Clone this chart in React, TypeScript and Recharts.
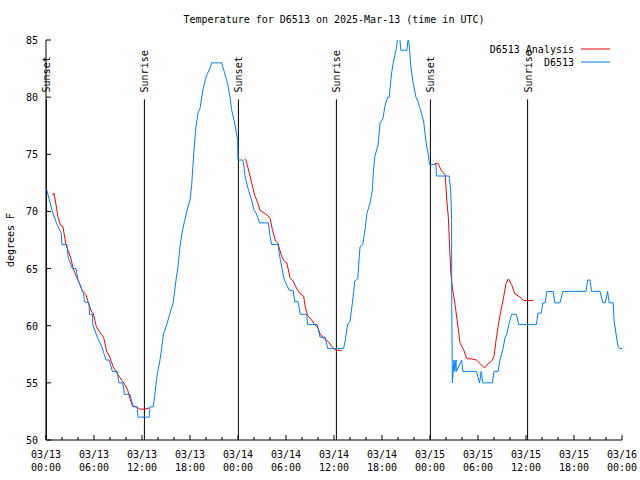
import { LineChart, Line, XAxis, YAxis, ReferenceLine } from "recharts";

const FONT = "'DejaVu Sans Mono', monospace";

// observed temperature, D6513 (hours since 03/13 00:00 UTC, degrees F)
const obsHours = [
  0.05, 0.8, 1.3, 1.9, 2.0, 2.6, 2.8, 3.3, 3.75, 4.0, 4.7, 4.8, 5.35, 5.45, 5.8, 5.85, 6.4, 6.96, 7.5, 7.9,
  8.3, 8.9, 9.1, 9.6, 9.8, 10.5, 10.9, 11.4, 11.5, 12.9, 13.0, 13.4, 13.6, 13.8, 14.0, 14.25, 14.7, 15.1, 15.5, 15.9,
  16.25, 16.5, 16.75, 17.0, 17.3, 17.7, 18.0, 18.2, 18.3, 18.5, 18.75, 19.0, 19.25, 19.6, 19.9, 20.2, 20.5, 20.7, 21.96, 22.2,
  22.7, 23.0, 23.2, 23.5, 23.75, 23.96, 24.0, 24.6, 24.75, 24.9, 25.3, 25.7, 26.0, 26.3, 26.7, 27.8, 28.0, 28.2, 29.0, 29.25,
  29.5, 29.8, 30.4, 30.9, 31.1, 31.5, 31.8, 32.6, 32.7, 33.9, 34.25, 34.9, 35.2, 37.2, 37.4, 37.7, 38.0, 38.3, 38.6, 38.96,
  39.25, 39.6, 39.9, 40.1, 40.5, 40.8, 40.9, 41.1, 41.5, 41.75, 42.1, 42.4, 42.7, 42.9, 43.2, 43.4, 43.75, 44.0, 44.2, 44.35,
  45.1, 45.3, 45.45, 45.6, 45.9, 46.25, 46.5, 46.8, 47.2, 47.5, 47.8, 47.95, 48.75, 48.8, 50.4, 50.6, 50.7, 50.72, 50.8, 51.0,
  51.1, 51.25, 51.3, 51.96, 52.1, 53.8, 54.2, 54.4, 54.6, 55.8, 56.0, 56.5, 56.75, 57.1, 57.4, 57.6, 57.9, 58.2, 58.8, 59.1,
  61.3, 61.5, 61.9, 62.1, 62.4, 62.6, 63.4, 63.6, 64.25, 64.6, 67.5, 67.7, 68.0, 68.2, 69.25, 69.6, 69.9, 70.2, 70.4, 70.9,
  71.0, 71.25, 71.5, 71.7, 72.0,
];
const obsTemps = [
  72.0, 70.0, 69.0, 68.1, 67.1, 67.1, 65.9, 65.0, 65.0, 64.0, 62.8, 62.1, 62.0, 61.0, 61.0, 60.1, 59.0, 58.2, 57.0, 57.0,
  56.0, 56.0, 55.0, 55.0, 54.0, 54.0, 52.9, 52.9, 52.0, 52.0, 52.9, 52.9, 53.9, 55.2, 56.1, 57.0, 59.3, 60.1, 61.1, 62.0,
  64.0, 65.2, 66.9, 68.1, 69.1, 70.3, 71.0, 72.2, 73.3, 75.4, 77.4, 78.6, 79.0, 80.6, 81.5, 82.1, 82.5, 83.0, 83.0, 82.4,
  81.2, 80.0, 78.9, 78.0, 77.1, 76.2, 74.5, 74.5, 73.9, 73.0, 71.9, 71.0, 70.1, 69.8, 69.0, 69.0, 67.8, 67.1, 67.1, 65.9,
  65.0, 64.0, 63.1, 63.1, 62.1, 62.1, 61.0, 61.0, 60.1, 60.1, 59.0, 59.0, 58.0, 58.0, 58.7, 60.1, 60.4, 62.0, 63.9, 64.1,
  66.9, 67.1, 68.5, 69.8, 70.7, 71.9, 73.3, 74.8, 75.8, 77.7, 78.1, 79.3, 80.0, 80.0, 82.1, 83.0, 84.1, 85.4, 85.4, 84.1,
  84.1, 85.3, 84.1, 82.7, 81.2, 80.0, 79.6, 78.9, 77.9, 76.1, 74.9, 74.1, 74.1, 73.1, 73.1, 71.7, 69.2, 61.5, 55.0, 57.0,
  56.0, 57.0, 56.0, 57.0, 56.0, 56.0, 55.0, 56.0, 55.0, 55.0, 56.0, 56.0, 57.0, 57.9, 59.0, 59.3, 60.2, 61.0, 61.0, 60.1,
  60.1, 61.1, 61.1, 62.0, 62.0, 63.0, 63.0, 62.0, 62.0, 63.0, 63.0, 64.0, 64.0, 63.0, 63.0, 62.0, 62.0, 63.0, 62.0, 62.0,
  60.5, 59.3, 58.2, 58.0, 58.0,
];

// analysis temperature, D6513 Analysis (null breaks the line between runs)
const anaHours = [
  0.8, 1.0, 1.3, 1.5, 1.8, 2.1, 2.25, 2.5, 2.8, 3.1, 3.4, 3.8, 4.25, 4.5, 5.0, 5.3, 5.7, 5.9, 6.3, 6.75,
  7.2, 7.6, 7.9, 8.4, 8.9, 9.5, 9.9, 10.2, 10.5, 10.8, 11.3, 11.75, 12.3, 12.9, 18.0,
  24.8, 25.0, 25.4, 25.7, 26.1, 26.5, 26.75, 27.6, 28.0, 28.3, 28.7, 29.0, 29.4, 29.7, 30.1, 30.5, 30.9, 31.3, 31.75, 32.2,
  32.4, 32.7, 33.2, 33.6, 34.0, 34.25, 34.7, 35.3, 35.7, 36.1, 36.96, 42.0,
  48.6, 49.0, 49.4, 49.9, 50.1, 50.3, 50.5, 50.6, 50.8, 51.1, 51.5, 51.75, 52.2, 52.6, 53.2, 53.8, 54.25, 54.8, 55.3, 55.7,
  56.0, 56.25, 56.5, 56.8, 57.2, 57.5, 57.8, 58.2, 58.6, 59.25, 59.7, 60.9,
];
const anaTemps = [
  71.4, 71.6, 70.4, 69.5, 68.8, 68.7, 68.1, 67.1, 66.5, 65.9, 65.0, 64.3, 63.6, 63.1, 62.7, 62.0, 61.2, 61.1, 59.9, 59.4,
  59.0, 57.7, 57.4, 56.4, 55.8, 55.2, 54.8, 54.4, 53.6, 53.0, 52.9, 52.7, 52.7, 52.8, null,
  74.6, 74.5, 73.4, 72.5, 71.4, 70.7, 70.1, 69.7, 69.4, 68.4, 67.4, 67.2, 66.2, 65.7, 65.5, 64.2, 63.9, 63.3, 62.8, 62.6,
  61.7, 60.9, 60.5, 60.1, 59.8, 59.3, 58.9, 58.6, 58.2, 57.9, 57.8, null,
  74.2, 74.2, 73.6, 73.2, 71.0, 69.4, 66.2, 64.6, 63.3, 62.0, 59.9, 58.5, 57.9, 57.1, 57.1, 57.0, 56.7, 56.3, 56.7, 56.9,
  57.3, 58.7, 59.9, 61.1, 62.5, 63.7, 64.1, 63.6, 62.8, 62.5, 62.2, 62.2,
];

const sunNames = ["Sunset", "Sunrise", "Sunset", "Sunrise", "Sunset", "Sunrise"];
const sunHours = [0.05, 12.3, 24.05, 36.3, 48.05, 60.2];

const xTicks = [0, 2, 4, 6, 8, 10, 12, 14, 16, 18, 20, 22, 24, 26, 28, 30, 32, 34, 36, 38, 40, 42, 44, 46, 48, 50, 52, 54, 56, 58, 60, 62, 64, 66, 68, 70, 72];
const xMajorHours = [0, 6, 12, 18, 24, 30, 36, 42, 48, 54, 60, 66, 72];
const xTickDates = ["03/13", "03/13", "03/13", "03/13", "03/14", "03/14", "03/14", "03/14", "03/15", "03/15", "03/15", "03/15", "03/16"];
const xTickTimes = ["00:00", "06:00", "12:00", "18:00", "00:00", "06:00", "12:00", "18:00", "00:00", "06:00", "12:00", "18:00", "00:00"];
const yTicks = [50, 55, 60, 65, 70, 75, 80, 85];

const obsData = obsHours.map((h, i) => ({ h, t: obsTemps[i] }));
const anaData = anaHours.map((h, i) => ({ h, t: anaTemps[i] }));

function BottomTick(props: any) {
  const { x, y, payload } = props;
  const idx = xMajorHours.indexOf(payload.value);
  const major = idx >= 0;
  return (
    <g>
      <line x1={x} x2={x} y1={y} y2={y - (major ? 5 : 3)} stroke="#000" />
      {major && (
        <text x={x} y={y + 18} textAnchor="middle" fontSize={10} fontFamily={FONT} fill="#000">
          <tspan x={x}>{xTickDates[idx]}</tspan>
          <tspan x={x} dy={13}>{xTickTimes[idx]}</tspan>
        </text>
      )}
    </g>
  );
}

function TopTick(props: any) {
  const { x, y, payload } = props;
  const major = xMajorHours.indexOf(payload.value) >= 0;
  return <line x1={x} x2={x} y1={y} y2={y + (major ? 5 : 3)} stroke="#000" />;
}

function LeftTick(props: any) {
  const { x, y, payload } = props;
  return (
    <g>
      <line x1={x} x2={x + 5} y1={y} y2={y} stroke="#000" />
      <text x={x - 8} y={y + 4} textAnchor="end" fontSize={10} fontFamily={FONT} fill="#000">
        {payload.value}
      </text>
    </g>
  );
}

function RightTick(props: any) {
  const { x, y } = props;
  return <line x1={x} x2={x - 5} y1={y} y2={y} stroke="#000" />;
}

function SunLabel(props: any) {
  const vb = props.viewBox || { x: 0, y: 0 };
  const tx = vb.x + 4;
  const ty = vb.y - 7;
  return (
    <text x={tx} y={ty} transform={`rotate(-90 ${tx} ${ty})`} fontSize={10} fontFamily={FONT} fill="#000">
      {props.text}
    </text>
  );
}

export default function App() {
  return (
    <div style={{ position: "absolute", left: 0, top: 0, width: 640, height: 480, background: "#fff" }}>
      <LineChart width={640} height={480} margin={{ top: 40, right: 18, left: 0, bottom: 0 }}>
        <XAxis
          xAxisId="b"
          type="number"
          dataKey="h"
          domain={[0, 72]}
          ticks={xTicks}
          interval={0}
          height={40}
          tickSize={0}
          tickMargin={0}
          tickLine={false}
          tick={<BottomTick />}
          stroke="#000"
          allowDataOverflow
        />
        <XAxis
          xAxisId="t"
          orientation="top"
          type="number"
          dataKey="h"
          domain={[0, 72]}
          ticks={xTicks}
          interval={0}
          height={0}
          tickSize={0}
          tickMargin={0}
          tickLine={false}
          tick={<TopTick />}
          stroke="#000"
        />
        <YAxis
          yAxisId="l"
          type="number"
          domain={[50, 85]}
          ticks={yTicks}
          interval={0}
          width={46}
          tickSize={0}
          tickMargin={0}
          tickLine={false}
          tick={<LeftTick />}
          stroke="#000"
          allowDataOverflow
        />
        <YAxis
          yAxisId="r"
          orientation="right"
          type="number"
          domain={[50, 85]}
          ticks={yTicks}
          interval={0}
          width={0}
          tickSize={0}
          tickMargin={0}
          tickLine={false}
          tick={<RightTick />}
          stroke="#000"
        />
        {sunHours.map((h, i) => (
          <ReferenceLine
            key={i}
            xAxisId="b"
            yAxisId="l"
            segment={[{ x: h, y: 79.8 }, { x: h, y: 50 }]}
            stroke="#000"
            strokeWidth={1}
            label={<SunLabel text={sunNames[i]} />}
          />
        ))}
        <Line
          xAxisId="b"
          yAxisId="l"
          data={anaData}
          dataKey="t"
          type="linear"
          stroke="#ff0000"
          strokeWidth={1}
          dot={false}
          activeDot={false}
          connectNulls={false}
          isAnimationActive={false}
        />
        <Line
          xAxisId="b"
          yAxisId="l"
          data={obsData}
          dataKey="t"
          type="linear"
          stroke="#0080ff"
          strokeWidth={1}
          dot={false}
          activeDot={false}
          isAnimationActive={false}
        />
      </LineChart>
      <svg width={640} height={480} style={{ position: "absolute", left: 0, top: 0, pointerEvents: "none" }}>
        <text x={334} y={23} textAnchor="middle" fontSize={10} fontFamily={FONT} fill="#000">
          Temperature for D6513 on 2025-Mar-13 (time in UTC)
        </text>
        <text x={14} y={240} textAnchor="middle" transform="rotate(-90 14 240)" fontSize={10} fontFamily={FONT} fill="#000">
          degrees F
        </text>
        <text x={574} y={53} textAnchor="end" fontSize={10} fontFamily={FONT} fill="#000">D6513 Analysis</text>
        <line x1={581} x2={610} y1={49} y2={49} stroke="#ff0000" />
        <text x={574} y={66} textAnchor="end" fontSize={10} fontFamily={FONT} fill="#000">D6513</text>
        <line x1={581} x2={610} y1={62} y2={62} stroke="#0080ff" />
      </svg>
    </div>
  );
}
